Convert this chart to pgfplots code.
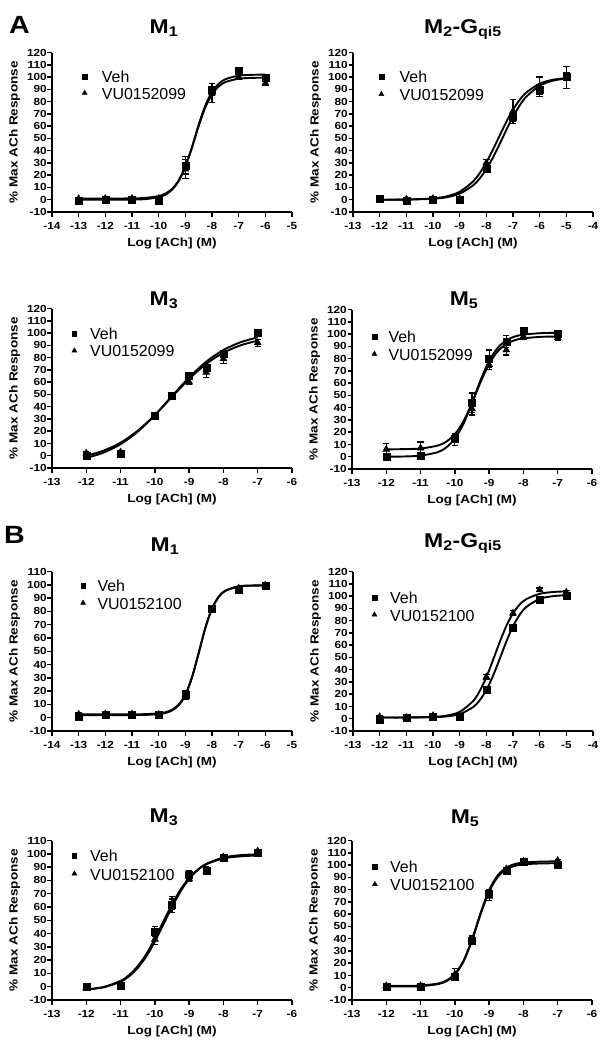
\documentclass[border=0pt]{standalone}
\usepackage{fontspec}
\setmainfont{Liberation Sans}[FakeStretch=1.15]
\newfontfamily\lgfam{Liberation Sans}
\usepackage{pgfplots}
\pgfplotsset{compat=1.18}
\newcommand{\lgf}{\lgfam\fontsize{16}{17}\selectfont}
\pgfplotsset{
 prism/.style={
   width=240bp, height=159.5bp, scale only axis, clip=false,
   axis lines=left, axis line style={-, line width=1.8bp},
   tick align=outside, major tick length=4.5bp,
   every tick/.style={black, line width=1.5bp},
   xtick distance=1, ytick distance=10,
   /pgf/number format/assume math mode=true,
   xticklabel style={font=\bfseries\fontsize{10.3}{11}\selectfont, yshift=-2.5bp},
   yticklabel style={font=\bfseries\fontsize{10.3}{11}\selectfont, inner xsep=0.6bp},
   xlabel={\bfseries\fontsize{11.8}{12}\selectfont Log [ACh] (M)},
   ylabel={\bfseries\fontsize{11.8}{12}\selectfont \% Max ACh Response},
   xlabel style={at={(axis description cs:0.5,-0.195)}, anchor=center},
   ylabel style={at={(axis description cs:-0.156,0.5)}, anchor=center},
   legend cell align=left,
   legend image code/.code={\path (0bp,0bp) (10bp,0bp); \draw[##1] plot coordinates {(5bp,0bp)};},
 },
 lg/.style n args={3}{legend style={draw=none, fill=none, inner sep=0pt, at={(0,1)}, anchor=north west,
   xshift=#1bp, yshift=-#2bp, nodes={inner sep=0pt}, column sep=0bp, row sep=#3bp}},
 curve/.style={black, line width=1.9bp, smooth, tension=0.5, no markers, forget plot},
 veh/.style={black, only marks, mark=square*, mark size=3.5bp, mark options={solid, fill=black},
   legend image post style={mark size=2.3bp},
   error bars/y dir=both, error bars/y explicit,
   error bars/error bar style={line width=1.2bp, black},
   error bars/error mark options={rotate=90, mark size=3.2bp, line width=1.2bp, black}},
 vu/.style={black, only marks, mark=triangle*, mark size=4.1bp, mark options={solid, fill=black},
   legend image post style={mark size=2.9bp},
   error bars/y dir=both, error bars/y explicit,
   error bars/error bar style={line width=1.2bp, black},
   error bars/error mark options={rotate=90, mark size=3.2bp, line width=1.2bp, black}},
}
\newcommand{\lgph}{\legend{\phantom{Veh},\phantom{VU0152099}}}
\newcommand{\lgtxt}[5]{%
  \node[anchor=west, inner sep=0pt] at (axis description cs:#1,#2) {\lgf #4};
  \node[anchor=west, inner sep=0pt] at (axis description cs:#1,#3) {\lgf #5};}
\begin{document}
\begin{tikzpicture}
\useasboundingbox (0,0) rectangle (609bp,-1050bp);
\tikzset{ttl/.style={anchor=base, inner sep=0pt, font=\bfseries\fontsize{20}{21}\selectfont}}
\node[anchor=base west, inner sep=0pt, font=\bfseries\fontsize{25}{26}\selectfont] at (9bp,-33bp) {A};
\node[anchor=base west, inner sep=0pt, font=\bfseries\fontsize{25}{26}\selectfont] at (4bp,-543bp) {B};
\node[ttl] at (164bp,-33bp) {M\textsubscript{1}};
\node[ttl] at (463bp,-33bp) {M\textsubscript{2}-G\textsubscript{qi5}};
\node[ttl] at (164bp,-305bp) {M\textsubscript{3}};
\node[ttl] at (464bp,-305bp) {M\textsubscript{5}};
\node[ttl] at (165bp,-551bp) {M\textsubscript{1}};
\node[ttl] at (463bp,-547bp) {M\textsubscript{2}-G\textsubscript{qi5}};
\node[ttl] at (164bp,-822bp) {M\textsubscript{3}};
\node[ttl] at (465bp,-823bp) {M\textsubscript{5}};

% ---------- A M1
\begin{axis}[prism, at={(52bp,-212bp)}, anchor=south west, xmin=-14, xmax=-5, ymin=-10, ymax=120, lg={27.3}{19.65}{7.7}]
\addplot[curve] coordinates {(-13,0.0) (-12,0.0) (-11,0.1) (-10.5,0.5) (-10,2.1) (-9.75,4.1) (-9.5,8.1) (-9.25,15.2) (-9,26.9) (-8.75,43.0) (-8.5,61.1) (-8.25,76.8) (-8,87.9) (-7.75,94.5) (-7.5,98.2) (-7,101.1) (-6.5,101.8) (-6,102.0)};
\addplot[curve] coordinates {(-13,1.0) (-12,1.0) (-11,1.1) (-10.5,1.5) (-10,3.0) (-9.75,5.0) (-9.5,8.8) (-9.25,15.7) (-9,27.0) (-8.75,42.5) (-8.5,60.0) (-8.25,75.2) (-8,85.9) (-7.75,92.3) (-7.5,95.9) (-7,98.6) (-6.5,99.3) (-6,99.5)};
\addplot[veh] coordinates {(-13,-0.5) +- (0,1) (-12,0) +- (0,1) (-11,0) +- (0,1) (-10,-0.5) +- (0,1) (-9,28) +- (0,7) (-8,90) +- (0,5) (-7,105) +- (0,2) (-6,99.5) +- (0,2)};
\addplot[vu] coordinates {(-13,0.8) +- (0,1) (-12,1) +- (0,1) (-11,1) +- (0,1) (-10,0.8) +- (0,1) (-9,25) +- (0,8) (-8,87) +- (0,8) (-7,100) +- (0,2) (-6,95) +- (0,2)};
\lgph
\lgtxt{0.2071}{0.8476}{0.7411}{Veh}{VU0152099}
\end{axis}

% ---------- A M2
\begin{axis}[prism, at={(353bp,-212bp)}, anchor=south west, xmin=-13, xmax=-4, ymin=-10, ymax=120, lg={23}{19.35}{9.2}]
\addplot[curve] coordinates {(-12,0.0) (-11,0.1) (-10,0.8) (-9.5,2.0) (-9,5.0) (-8.5,11.6) (-8.25,17.3) (-8,24.9) (-7.75,34.4) (-7.5,45.4) (-7.25,56.9) (-7,67.6) (-6.75,76.8) (-6.5,84.0) (-6,92.9) (-5.5,97.1) (-5,98.8)};
\addplot[curve] coordinates {(-12,0.0) (-11,0.2) (-10,1.1) (-9.5,2.7) (-9,6.5) (-8.5,14.8) (-8.25,21.6) (-8,30.4) (-7.75,40.9) (-7.5,52.3) (-7.25,63.5) (-7,73.4) (-6.75,81.4) (-6.5,87.4) (-6,94.6) (-5.5,97.8) (-5,99.1)};
\addplot[veh] coordinates {(-12,0.5) +- (0,1) (-11,-0.5) +- (0,1) (-10,0.3) +- (0,1) (-9,0) +- (0,1) (-8,25) +- (0,2) (-7,68) +- (0,4) (-6,90) +- (0,4) (-5,100.5) +- (0,3)};
\addplot[vu] coordinates {(-12,0.3) +- (0,1) (-11,0.5) +- (0,1) (-10,1) +- (0,1) (-9,0.8) +- (0,1) (-8,30) +- (0,3) (-7,72) +- (0,10) (-6,92) +- (0,8) (-5,99.5) +- (0,9)};
\lgph
\lgtxt{0.1938}{0.8495}{0.7335}{Veh}{VU0152099}
\end{axis}

% ---------- A M3
\begin{axis}[prism, at={(52bp,-468bp)}, anchor=south west, xmin=-13, xmax=-6, ymin=-10, ymax=120, lg={17}{20.35}{8.7}]
\addplot[curve] coordinates {(-12,-1.8) (-11.5,2.5) (-11,9.4) (-10.5,19.6) (-10,33.0) (-9.5,48.6) (-9,63.8) (-8.5,76.7) (-8,86.2) (-7.5,92.5) (-7,96.5)};
\addplot[curve] coordinates {(-12,-0.1) (-11.5,4.1) (-11,10.6) (-10.5,20.4) (-10,33.2) (-9.5,48.0) (-9,62.6) (-8.5,74.9) (-8,83.9) (-7.5,90.0) (-7,93.8)};
\addplot[veh] coordinates {(-12,0) +- (0,1) (-11,2) +- (0,1) (-10,33) +- (0,2) (-9.5,49) +- (0,2) (-9,65) +- (0,2) (-8.5,72) +- (0,2) (-8,83) +- (0,2) (-7,100) +- (0,2)};
\addplot[vu] coordinates {(-12,2) +- (0,1) (-11,3) +- (0,1) (-10,32) +- (0,2) (-9.5,48) +- (0,2) (-9,60) +- (0,2) (-8.5,68) +- (0,4) (-8,79) +- (0,4) (-7,92) +- (0,3)};
\lgph
\lgtxt{0.1583}{0.8433}{0.7304}{Veh}{VU0152099}
\end{axis}

% ---------- A M5
\begin{axis}[prism, at={(352bp,-469bp)}, anchor=south west, xmin=-13, xmax=-6, ymin=-10, ymax=120, lg={17}{22.35}{9}]
\addplot[curve] coordinates {(-12,0.0) (-11.5,0.2) (-11,0.9) (-10.5,3.7) (-10.25,7.6) (-10,14.7) (-9.75,26.8) (-9.5,43.7) (-9.25,62.4) (-9,78.1) (-8.75,88.7) (-8.5,94.8) (-8.25,98.0) (-8,99.5) (-7.5,100.7) (-7,101.0)};
\addplot[curve] coordinates {(-12,6.0) (-11.5,6.2) (-11,6.7) (-10.5,9.1) (-10.25,12.3) (-10,18.4) (-9.75,28.8) (-9.5,43.8) (-9.25,60.8) (-9,75.7) (-8.75,85.9) (-8.5,91.8) (-8.25,95.0) (-8,96.5) (-7.5,97.7) (-7,98.0)};
\addplot[veh] coordinates {(-12,0) +- (0,1) (-11,0.5) +- (0,1) (-10,15) +- (0,3) (-9.5,44) +- (0,8) (-9,80) +- (0,7) (-8.5,94) +- (0,5) (-8,103) +- (0,2) (-7,100.5) +- (0,1)};
\addplot[vu] coordinates {(-12,6) +- (0,5) (-11,7) +- (0,5) (-10,14) +- (0,5) (-9.5,39) +- (0,5) (-9,75) +- (0,4) (-8.5,87) +- (0,4) (-8,98) +- (0,2) (-7,97) +- (0,2)};
\lgph
\lgtxt{0.1513}{0.8307}{0.7160}{Veh}{VU0152099}
\end{axis}

% ---------- B M1
\begin{axis}[prism, at={(52bp,-731bp)}, anchor=south west, xmin=-14, xmax=-5, ymin=-10, ymax=110, lg={25.7}{9.35}{9}]
\addplot[curve] coordinates {(-13,2.0) (-12,2.0) (-11,2.0) (-10.5,2.1) (-10,2.7) (-9.75,3.6) (-9.5,5.4) (-9.25,9.3) (-9,16.9) (-8.75,30.1) (-8.5,48.4) (-8.25,67.3) (-8,81.9) (-7.75,90.8) (-7.5,95.4) (-7,98.7) (-6.5,99.3) (-6,99.5)};
\addplot[curve] coordinates {(-13,2.6) (-12,2.6) (-11,2.6) (-10.5,2.7) (-10,3.3) (-9.75,4.1) (-9.5,6.0) (-9.25,9.9) (-9,17.5) (-8.75,30.6) (-8.5,48.8) (-8.25,67.7) (-8,82.2) (-7.75,91.0) (-7.5,95.6) (-7,98.9) (-6.5,99.5) (-6,99.7)};
\addplot[veh] coordinates {(-13,1) +- (0,1) (-12,2) +- (0,1) (-11,2.3) +- (0,1) (-10,2) +- (0,1) (-9,17.6) +- (0,3) (-8,82) +- (0,2) (-7,96.5) +- (0,1.5) (-6,99.6) +- (0,1)};
\addplot[vu] coordinates {(-13,2.5) +- (0,1) (-12,2.8) +- (0,1) (-11,2.8) +- (0,1) (-10,2.3) +- (0,1) (-9,17) +- (0,3) (-8,81) +- (0,2) (-7,97.5) +- (0,1.5) (-6,99.6) +- (0,1)};
\lgph
\lgtxt{0.1888}{0.9122}{0.7975}{Veh}{VU0152100}
\end{axis}

% ---------- B M2
\begin{axis}[prism, at={(353bp,-731bp)}, anchor=south west, xmin=-13, xmax=-4, ymin=-10, ymax=120, lg={16}{21.35}{8.7}]
\addplot[curve] coordinates {(-12,1.0) (-11,1.0) (-10,1.3) (-9.5,1.9) (-9,3.8) (-8.5,9.4) (-8.25,15.0) (-8,23.4) (-7.75,34.9) (-7.5,48.7) (-7.25,62.9) (-7,75.3) (-6.75,84.7) (-6.5,91.1) (-6,97.7) (-5.5,99.9) (-5,100.7)};
\addplot[curve] coordinates {(-12,1.0) (-11,1.0) (-10,1.5) (-9.5,2.5) (-9,5.6) (-8.5,14.3) (-8.25,22.5) (-8,33.8) (-7.75,47.8) (-7.5,62.4) (-7.25,75.6) (-7,85.9) (-6.75,93.0) (-6.5,97.5) (-6,101.8) (-5.5,103.3) (-5,103.8)};
\addplot[veh] coordinates {(-12,-0.5) +- (0,1) (-11,1) +- (0,1) (-10,1.6) +- (0,1) (-9,1.4) +- (0,1) (-8,23.5) +- (0,2) (-7,74) +- (0,3) (-6,96.7) +- (0,2) (-5,100.5) +- (0,1.5)};
\addplot[vu] coordinates {(-12,1.6) +- (0,1) (-11,1) +- (0,1) (-10,2.5) +- (0,1) (-9,2) +- (0,1) (-8,34) +- (0,2) (-7,86) +- (0,2) (-6,105) +- (0,1.5) (-5,103) +- (0,1.5)};
\lgph
\lgtxt{0.1542}{0.8370}{0.7241}{Veh}{VU0152100}
\end{axis}

% ---------- B M3
\begin{axis}[prism, at={(52bp,-1000bp)}, anchor=south west, xmin=-13, xmax=-6, ymin=-10, ymax=110, lg={17}{10.85}{9.2}]
\addplot[curve] coordinates {(-12,-2.0) (-11.5,-0.2) (-11,4.4) (-10.75,8.8) (-10.5,15.4) (-10.25,24.5) (-10,36.1) (-9.75,49.1) (-9.5,61.9) (-9.25,73.1) (-9,81.8) (-8.75,88.0) (-8.5,92.2) (-8,96.5) (-7.5,98.1) (-7,98.7)};
\addplot[curve] coordinates {(-12,-2.1) (-11.5,-0.5) (-11,3.8) (-10.75,7.9) (-10.5,14.1) (-10.25,22.8) (-10,34.0) (-9.75,46.9) (-9.5,60.0) (-9.25,71.8) (-9,81.1) (-8.75,87.8) (-8.5,92.4) (-8,97.2) (-7.5,99.0) (-7,99.6)};
\addplot[veh] coordinates {(-12,0) +- (0,1) (-11,0.5) +- (0,1) (-10,41.5) +- (0,4) (-9.5,62) +- (0,6) (-9,84) +- (0,3) (-8.5,87.5) +- (0,2.5) (-8,97) +- (0,1) (-7,100.6) +- (0,1)};
\addplot[vu] coordinates {(-12,-0.5) +- (0,1) (-11,1.3) +- (0,1) (-10,35.7) +- (0,4) (-9.5,62) +- (0,4) (-9,81) +- (0,2) (-8.5,87) +- (0,2) (-8,97.6) +- (0,1) (-7,102) +- (0,1)};
\lgph
\lgtxt{0.1583}{0.9028}{0.7868}{Veh}{VU0152100}
\end{axis}

% ---------- B M5
\begin{axis}[prism, at={(352bp,-1000bp)}, anchor=south west, xmin=-13, xmax=-6, ymin=-10, ymax=120, lg={17.5}{21.85}{8.7}]
\addplot[curve] coordinates {(-12,1.0) (-11.5,1.1) (-11,1.3) (-10.5,2.9) (-10.25,5.3) (-10,10.6) (-9.75,21.2) (-9.5,38.5) (-9.25,59.8) (-9,78.4) (-8.75,90.3) (-8.5,96.5) (-8.25,99.3) (-8,100.6) (-7.5,101.3) (-7,101.5)};
\addplot[curve] coordinates {(-12,1.5) (-11.5,1.6) (-11,1.8) (-10.5,3.4) (-10.25,5.8) (-10,11.2) (-9.75,21.9) (-9.5,39.4) (-9.25,60.9) (-9,79.7) (-8.75,91.6) (-8.5,97.9) (-8.25,100.8) (-8,102.0) (-7.5,102.8) (-7,103.0)};
\addplot[veh] coordinates {(-12,0.8) +- (0,1) (-11,0.8) +- (0,1) (-10,9) +- (0,2) (-9.5,38.4) +- (0,3) (-9,77) +- (0,3) (-8.5,95.7) +- (0,1.5) (-8,103) +- (0,1) (-7,100.3) +- (0,1)};
\addplot[vu] coordinates {(-12,1.6) +- (0,1) (-11,1.6) +- (0,1) (-10,11) +- (0,5) (-9.5,39.5) +- (0,3) (-9,74.4) +- (0,3) (-8.5,96.8) +- (0,1.5) (-8,103) +- (0,1) (-7,103.6) +- (0,1)};
\lgph
\lgtxt{0.1583}{0.8339}{0.7210}{Veh}{VU0152100}
\end{axis}
\end{tikzpicture}
\end{document}
